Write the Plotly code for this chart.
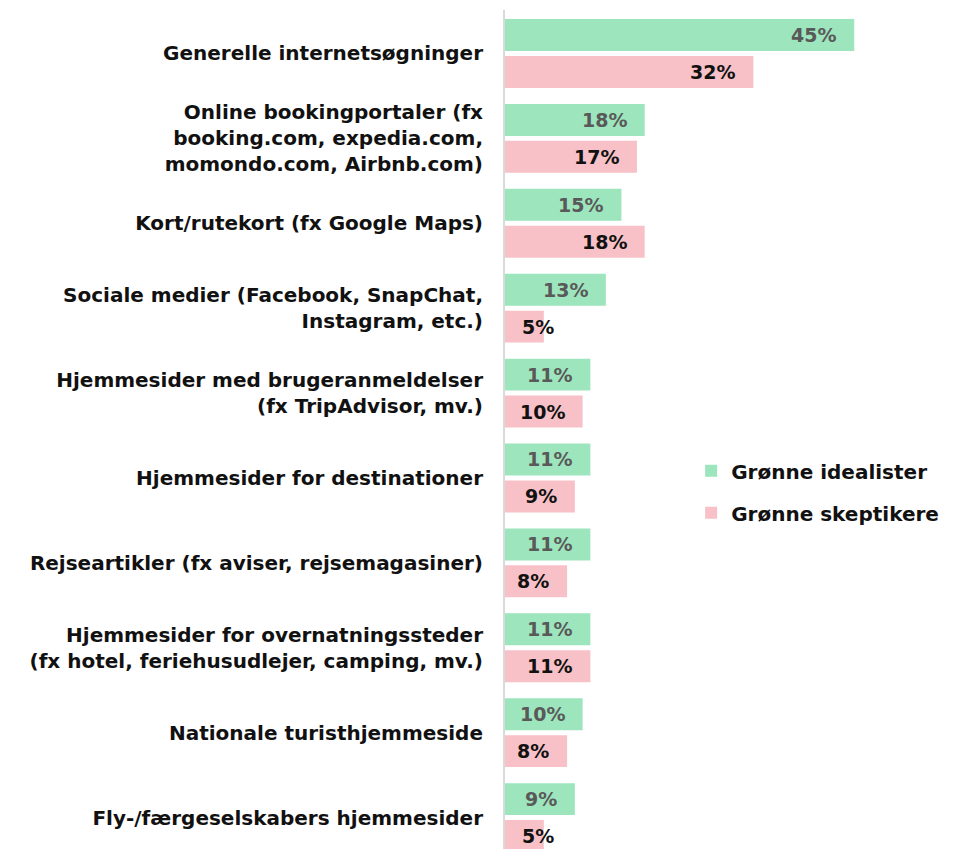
import plotly.graph_objects as go

categories = [
    "Generelle internetsøgninger",
    "Online bookingportaler (fx<br>booking.com, expedia.com,<br>momondo.com, Airbnb.com)",
    "Kort/rutekort (fx Google Maps)",
    "Sociale medier (Facebook, SnapChat,<br>Instagram, etc.)",
    "Hjemmesider med brugeranmeldelser<br>(fx TripAdvisor, mv.)",
    "Hjemmesider for destinationer",
    "Rejseartikler (fx aviser, rejsemagasiner)",
    "Hjemmesider for overnatningssteder<br>(fx hotel, feriehusudlejer, camping, mv.)",
    "Nationale turisthjemmeside",
    "Fly-/færgeselskabers hjemmesider",
]
idealister = [45, 18, 15, 13, 11, 11, 11, 11, 10, 9]
skeptikere = [32, 17, 18, 5, 10, 9, 8, 11, 8, 5]
series_names = ["Grønne idealister", "Grønne skeptikere"]

GREEN = "#9de5bd"
PINK = "#f7c1c7"
FONT = "DejaVu Sans"

W, H = 959, 849
ML, MR, MT, MB = 505, 0, 10, 0
XMAX = 58.5
px_per_unit = (W - ML - MR) / XMAX

ypos = list(range(len(categories)))

fig = go.Figure()
fig.add_trace(go.Bar(
    y=ypos, x=idealister, orientation="h", name=series_names[0],
    marker=dict(color=GREEN, line=dict(width=0)), legendgroup="a",
    hoverinfo="skip",
))
fig.add_trace(go.Bar(
    y=ypos, x=skeptikere, orientation="h", name=series_names[1],
    marker=dict(color=PINK, line=dict(width=0)), legendgroup="b",
    hoverinfo="skip",
))

LABEL_SIZE = 19
annotations = []
for vals, shift, color in [(idealister, 18.5, "#595959"), (skeptikere, -18.5, "#111111")]:
    for i, v in enumerate(vals):
        txt = f"{v}%"
        est_w = LABEL_SIZE * 0.72 * len(txt)
        if v * px_per_unit - 17 - est_w >= 16:
            ann = dict(x=v, xanchor="right", xshift=-16)
        else:
            ann = dict(x=0, xanchor="left", xshift=15)
        ann.update(
            y=i, yshift=shift, yanchor="middle", showarrow=False, text=txt,
            xref="x", yref="y",
            font=dict(family=FONT, size=LABEL_SIZE, color=color, weight=700),
        )
        annotations.append(ann)

fig.update_layout(
    width=W, height=H,
    margin=dict(l=ML, r=MR, t=MT, b=MB, pad=0, autoexpand=False),
    paper_bgcolor="white", plot_bgcolor="white",
    barmode="group", bargap=0.13, bargroupgap=0.135,
    showlegend=True,
    legend=dict(
        x=0.41, y=0.474, xanchor="left", yanchor="top",
        font=dict(family=FONT, size=20, color="#111111", weight=700),
        traceorder="grouped", tracegroupgap=13,
        bgcolor="rgba(0,0,0,0)",
    ),
    xaxis=dict(range=[0, XMAX], visible=False, fixedrange=True),
    yaxis=dict(
        range=[len(categories) - 1 + 0.37, -0.512],
        tickvals=ypos, ticktext=categories,
        showline=True, linecolor="#d9d9d9", linewidth=2,
        showgrid=False, zeroline=False, ticks="",
        ticklabelstandoff=16, automargin=False, fixedrange=True,
        tickfont=dict(family=FONT, size=20, color="#111111", weight=700),
    ),
    annotations=annotations,
)

fig.write_html(
    "out.html",
    config={"displayModeBar": False},
    post_script="document.body.style.margin='0';document.body.style.padding='0';",
)
